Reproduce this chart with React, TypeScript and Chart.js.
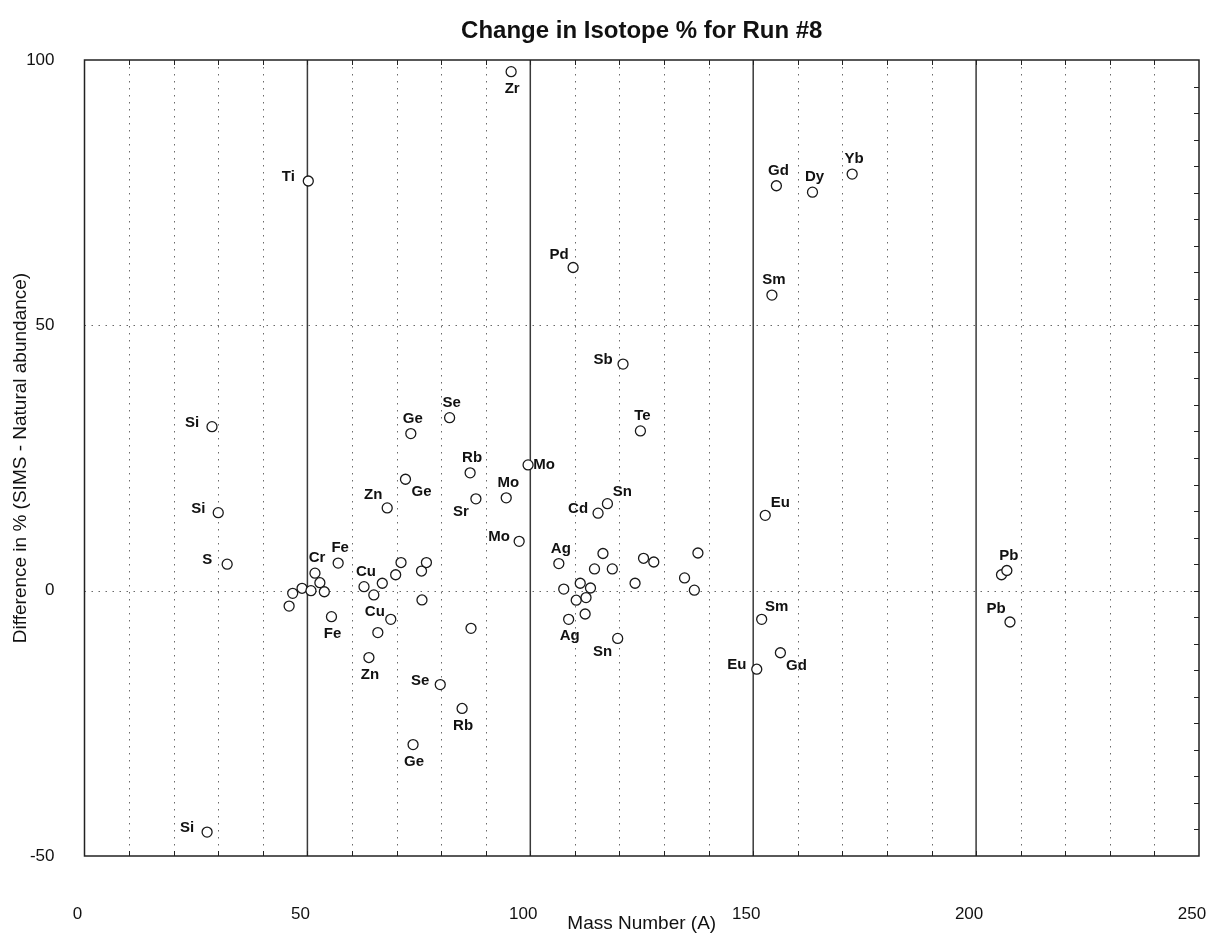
import { useEffect, useRef } from "react";
import { Chart, registerables } from "chart.js";

Chart.register(...registerables);

// ---- data ----
const massNumber = [
  27.5, 28.6, 30.0, 32.0, 45.9, 46.7, 48.8, 50.2, 50.8, 51.7, 52.8, 53.8, 55.4, 56.9,
  62.7, 63.8, 64.9, 65.8, 66.8, 67.9, 68.7, 69.8, 71.0, 72.0, 73.2, 73.7, 75.6, 75.7,
  76.7, 79.8, 81.9, 84.7, 86.5, 86.7, 87.8, 94.6, 95.7, 97.5, 99.5, 106.4, 107.5, 108.6,
  109.6, 110.3, 111.2, 112.3, 112.5, 113.5, 114.4, 115.2, 116.3, 117.3, 118.4, 119.6,
  120.8, 123.5, 124.7, 125.4, 127.7, 134.6, 136.8, 137.6, 150.8, 151.9, 152.7, 154.2,
  155.2, 156.1, 163.3, 172.2, 205.7, 206.9, 207.6,
];
const diffPercent = [
  -45.5, 30.9, 14.7, 5.0, -2.9, -0.5, 0.45, 77.2, 0.0, 3.3, 1.5, -0.2, -4.9, 5.2,
  0.75, -12.6, -0.8, -7.9, 1.4, 15.6, -5.4, 3.0, 5.3, 21.0, 29.6, -29.0, 3.7, -1.75,
  5.3, -17.7, 32.6, -22.2, 22.2, -7.1, 17.3, 17.5, 97.8, 9.3, 23.7, 5.1, 0.3, -5.4,
  60.9, -1.8, 1.4, -4.4, -1.3, 0.5, 4.1, 14.6, 7.0, 16.4, 4.1, -9.0,
  42.7, 1.4, 30.1, 6.1, 5.4, 2.4, 0.1, 7.1, -14.8, -5.4, 14.2, 55.7,
  76.3, -11.7, 75.1, 78.5, 3.0, 3.8, -5.9,
];
const elementLabel = [
  "Si", "Si", "Si", "S", "", "", "", "Ti", "", "Cr", "", "", "Fe", "Fe",
  "Cu", "Zn", "Cu", "", "", "Zn", "", "", "", "Ge", "Ge", "Ge", "", "",
  "", "Se", "Se", "Rb", "Rb", "", "Sr", "Mo", "Zr", "Mo", "Mo", "Ag", "", "Ag",
  "Pd", "", "", "", "", "", "", "Cd", "", "Sn", "", "Sn",
  "Sb", "", "Te", "", "", "", "", "", "Eu", "Sm", "Eu", "Sm",
  "Gd", "Gd", "Dy", "Yb", "", "Pb", "Pb",
];
// which side of its marker each label sits on
const labelSide = [
  "W", "W", "W", "W", "", "", "", "W", "", "N", "", "", "S", "N",
  "N", "S", "S", "", "", "NW", "", "", "", "SE", "N", "S", "", "",
  "", "W", "N", "S", "N", "", "SW", "N", "S", "W", "E", "N", "", "S",
  "NW", "", "", "", "", "", "", "W", "", "NE", "", "SW",
  "W", "", "N", "", "", "", "", "", "W", "NE", "NE", "N",
  "N", "SE", "N", "N", "", "N", "NW",
];
const xTickLabels = [0, 50, 100, 150, 200, 250];
const yTickLabels = [-50, 0, 50, 100];
const chartTitle = "Change in Isotope % for Run #8";
const xTitle = "Mass Number (A)";
const yTitle = "Difference in % (SIMS - Natural abundance)";

const SANS = '"Liberation Sans", Arial, sans-serif';

const sideOffset: Record<string, [number, number]> = {
  N: [2, -15],
  S: [1, 17],
  W: [-20, -4],
  E: [16, 0],
  NW: [-14, -13],
  NE: [15, -12],
  SW: [-15, 13],
  SE: [16, 13],
};

export default function App() {
  const ref = useRef<HTMLCanvasElement | null>(null);

  useEffect(() => {
    const canvas = ref.current;
    if (!canvas) return;

    const frameAndGrid = {
      id: "frameAndGrid",
      beforeDatasetsDraw(chart: any) {
        const { ctx, chartArea: a, scales } = chart;
        const x = scales.x;
        const y = scales.y;
        ctx.save();
        // dotted verticals every 10
        ctx.strokeStyle = "#6a6a6a";
        ctx.lineWidth = 1;
        ctx.setLineDash([1.5, 5.5]);
        for (let v = 10; v < 250; v += 10) {
          if (v % 50 === 0) continue;
          const px = Math.round(x.getPixelForValue(v)) + 0.5;
          ctx.beginPath();
          ctx.moveTo(px, a.top);
          ctx.lineTo(px, a.bottom);
          ctx.stroke();
        }
        // dotted horizontals at 0 and 50
        for (const v of [0, 50]) {
          const py = Math.round(y.getPixelForValue(v)) + 0.5;
          ctx.beginPath();
          ctx.moveTo(a.left, py);
          ctx.lineTo(a.right, py);
          ctx.stroke();
        }
        ctx.setLineDash([]);
        // solid verticals every 50
        ctx.strokeStyle = "#3a3a3a";
        ctx.lineWidth = 1.5;
        for (let v = 50; v < 250; v += 50) {
          const px = x.getPixelForValue(v);
          ctx.beginPath();
          ctx.moveTo(px, a.top);
          ctx.lineTo(px, a.bottom);
          ctx.stroke();
        }
        // frame
        ctx.strokeStyle = "#222";
        ctx.lineWidth = 1.5;
        ctx.strokeRect(a.left, a.top, a.right - a.left, a.bottom - a.top);
        // inward tick marks
        ctx.lineWidth = 1;
        for (let v = 10; v < 250; v += 10) {
          const px = Math.round(x.getPixelForValue(v)) + 0.5;
          ctx.beginPath();
          ctx.moveTo(px, a.top);
          ctx.lineTo(px, a.top + 5);
          ctx.moveTo(px, a.bottom);
          ctx.lineTo(px, a.bottom - 5);
          ctx.stroke();
        }
        for (let v = -45; v < 100; v += 5) {
          const py = Math.round(y.getPixelForValue(v)) + 0.5;
          ctx.beginPath();
          ctx.moveTo(a.right, py);
          ctx.lineTo(a.right - 5, py);
          ctx.stroke();
        }
        ctx.restore();
      },
      afterDatasetsDraw(chart: any) {
        const { ctx, scales } = chart;
        const x = scales.x;
        const y = scales.y;
        ctx.save();
        ctx.fillStyle = "#111";
        ctx.font = `bold 15px ${SANS}`;
        ctx.textAlign = "center";
        ctx.textBaseline = "middle";
        for (let i = 0; i < massNumber.length; i++) {
          const t = elementLabel[i];
          if (!t) continue;
          const off = sideOffset[labelSide[i]] || [0, -15];
          const px = x.getPixelForValue(massNumber[i]);
          const py = y.getPixelForValue(diffPercent[i]);
          ctx.fillText(t, px + off[0], py + off[1]);
        }
        // chart title centred over the plot area
        const a = chart.chartArea;
        ctx.font = `bold 24px ${SANS}`;
        ctx.fillText(chartTitle, (a.left + a.right) / 2, 31);
        ctx.restore();
      },
    };

    const chart = new Chart(canvas, {
      type: "scatter",
      data: {
        datasets: [
          {
            label: "isotopes",
            data: massNumber.map((m, i) => ({ x: m, y: diffPercent[i] })),
            pointStyle: "circle",
            pointRadius: 5,
            pointHoverRadius: 5,
            borderColor: "#1a1a1a",
            borderWidth: 1.3,
            backgroundColor: "#ffffff",
          },
        ],
      },
      options: {
        animation: false,
        responsive: false,
        devicePixelRatio: 1,
        events: [],
        layout: { padding: { top: 60, right: 18, left: 0, bottom: 0 } },
        plugins: {
          legend: { display: false },
          tooltip: { enabled: false },
          title: { display: false },
        },
        scales: {
          x: {
            type: "linear",
            min: 0,
            max: 250,
            afterBuildTicks: (s: any) => {
              s.ticks = xTickLabels.map((v) => ({ value: v }));
            },
            afterFit: (s: any) => {
              s.height = 79;
              s.paddingLeft = 0;
              s.paddingRight = 0;
            },
            ticks: {
              padding: 40,
              labelOffset: -7,
              color: "#111",
              font: { family: SANS, size: 17 },
              maxRotation: 0,
              autoSkip: false,
            },
            grid: { display: false },
            border: { display: false },
            title: {
              display: true,
              text: xTitle,
              color: "#111",
              font: { family: SANS, size: 19 },
              padding: { top: 0, bottom: 0 },
            },
          },
          y: {
            type: "linear",
            min: -50,
            max: 100,
            afterBuildTicks: (s: any) => {
              s.ticks = yTickLabels.map((v) => ({ value: v }));
            },
            afterFit: (s: any) => {
              s.width = 84.5;
              s.paddingTop = 0;
              s.paddingBottom = 0;
            },
            ticks: {
              padding: 22,
              color: "#111",
              font: { family: SANS, size: 17 },
              autoSkip: false,
            },
            grid: { display: false },
            border: { display: false },
            title: {
              display: true,
              text: yTitle,
              color: "#111",
              font: { family: SANS, size: 19 },
              padding: { top: 9, bottom: 0 },
            },
          },
        },
      },
      plugins: [frameAndGrid],
    } as any);

    return () => chart.destroy();
  }, []);

  return (
    <div style={{ position: "absolute", left: 0, top: 0, width: 1217, height: 935, background: "#fff" }}>
      <canvas ref={ref} width={1217} height={935} style={{ width: 1217, height: 935, display: "block" }} />
    </div>
  );
}
